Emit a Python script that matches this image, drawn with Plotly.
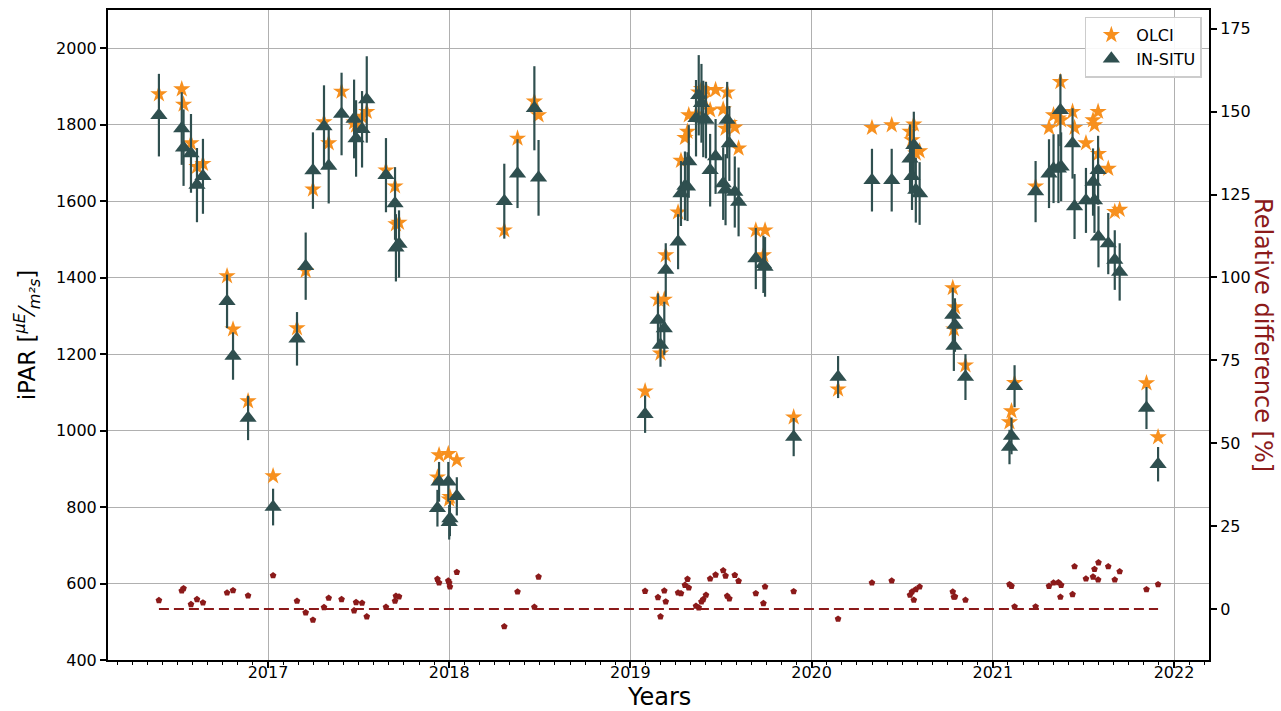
import plotly.graph_objects as go

# ---- data ----
dates = [2016.398, 2016.524, 2016.534, 2016.575, 2016.608, 2016.641, 2016.774, 2016.807, 2016.890,
         2017.028, 2017.160, 2017.208, 2017.248, 2017.309, 2017.335, 2017.406, 2017.475, 2017.486,
         2017.519, 2017.545, 2017.651, 2017.701, 2017.706, 2017.723, 2017.935, 2017.944, 2017.995,
         2018.000, 2018.004, 2018.042, 2018.304, 2018.377, 2018.470, 2018.493,
         2019.081, 2019.152, 2019.166, 2019.187, 2019.195, 2019.263, 2019.279, 2019.301, 2019.315,
         2019.322, 2019.362, 2019.377, 2019.392, 2019.402, 2019.417, 2019.440, 2019.470, 2019.512,
         2019.525, 2019.534, 2019.546, 2019.576, 2019.597, 2019.692, 2019.734, 2019.743, 2019.901,
         2020.146, 2020.333, 2020.442, 2020.543, 2020.554, 2020.564, 2020.575, 2020.596, 2020.779,
         2020.785, 2020.791, 2020.849,
         2021.092, 2021.103, 2021.120, 2021.236, 2021.310, 2021.335, 2021.362, 2021.373, 2021.377,
         2021.440, 2021.451, 2021.514, 2021.553, 2021.561, 2021.581, 2021.583, 2021.637, 2021.673,
         2021.700, 2021.848, 2021.912]

olci = [1880, 1893, 1853, 1752, 1690, 1698, 1404, 1265, 1077,
        881, 1268, 1418, 1631, 1807, 1752, 1887, 1806, 1798,
        1821, 1834, 1681, 1639, 1540, 1544, 878, 936, 939,
        820, 827, 923, 1524, 1764, 1861, 1825,
        1103, 1343, 1202, 1343, 1459, 1571, 1706, 1766, 1782,
        1825, 1827, 1885, 1894, 1870, 1891, 1838, 1891, 1840,
        1790, 1885, 1805, 1793, 1738, 1524, 1459, 1524, 1035,
        1108, 1792, 1799, 1782, 1760, 1801, 1725, 1731, 1373,
        1265, 1323, 1171,
        1022, 1051, 1125, 1639, 1792, 1825, 1817, 1912, 1812,
        1834, 1792, 1752, 1812, 1799, 1834, 1724, 1685, 1572,
        1578, 1124, 983]

insitu = [1825, 1790, 1740, 1725, 1642, 1665, 1338, 1195, 1033,
          800, 1240, 1430, 1680, 1795, 1692, 1828, 1815, 1764,
          1788, 1866, 1668, 1594, 1478, 1488, 797, 866, 866,
          760, 770, 828, 1600, 1672, 1843, 1661,
          1043, 1289, 1224, 1267, 1420, 1494, 1620, 1640, 1638,
          1704, 1817, 1877, 1856, 1815, 1812, 1681, 1717, 1646,
          1630, 1812, 1751, 1624, 1598, 1450, 1435, 1428, 983,
          1140, 1655, 1655, 1711, 1665, 1746, 1629, 1620, 1302,
          1221, 1276, 1140,
          957, 986, 1116, 1625, 1672, 1685, 1685, 1838, 1690,
          1751, 1586, 1602, 1650, 1602, 1681, 1507, 1489, 1446,
          1415, 1059, 912]

insitu_err = [108, 95, 100, 103, 97, 98, 70, 62, 58,
              48, 70, 88, 100, 108, 98, 108, 103, 100,
              100, 113, 97, 95, 88, 88, 48, 52, 52,
              45, 46, 50, 98, 90, 110, 99,
              49, 70, 57, 70, 70, 72, 85, 90, 90,
              95, 100, 105, 103, 100, 100, 95, 98, 95,
              93, 100, 98, 93, 90, 80, 75, 78, 50,
              55, 82, 82, 90, 88, 88, 85, 82, 72,
              65, 70, 60,
              45, 48, 55, 80, 90, 90, 90, 94, 90,
              92, 85, 85, 88, 85, 90, 80, 80, 78,
              75, 55, 45]

rel_diff = [2.6, 5.5, 6.2, 1.4, 2.9, 1.9, 4.9, 5.6, 4.0,
            10.1, 2.4, -1.1, -3.3, 0.5, 3.3, 2.9, -0.5, 2.0,
            1.8, -2.3, 0.6, 2.4, 3.9, 3.7, 9.0, 7.9, 8.5,
            7.9, 6.7, 11.1, -5.3, 5.2, 0.6, 9.7,
            5.4, 3.5, -2.3, 5.5, 2.2, 4.9, 4.7, 7.2, 9.0,
            6.4, 0.9, 0.4, 2.2, 2.9, 4.2, 9.1, 10.3, 11.6,
            10.0, 3.9, 3.1, 10.2, 8.4, 4.7, 1.7, 6.7, 5.3,
            -3.0, 7.9, 8.5, 4.2, 5.2, 2.7, 5.9, 6.7, 5.2,
            3.6, 3.7, 2.7,
            7.4, 6.9, 0.7, 0.7, 6.9, 7.9, 8.0, 3.6, 7.2,
            4.4, 12.8, 9.1, 9.7, 12.0, 8.8, 14.0, 12.8, 8.8,
            11.3, 5.9, 7.4]

year_ticks = [2017, 2018, 2019, 2020, 2021, 2022]
year_labels = ["2017", "2018", "2019", "2020", "2021", "2022"]

ORANGE = "#f7901e"
SLATE = "#2f4f4f"
DARKRED = "#8b1a1a"
FONT = "DejaVu Sans"

fig = go.Figure()

fig.add_trace(go.Scatter(
    x=dates, y=olci, mode="markers", name="OLCI",
    marker=dict(symbol="star", size=13, color=ORANGE, line=dict(width=0)),
))
fig.add_trace(go.Scatter(
    x=dates, y=insitu, mode="markers", name="IN-SITU",
    marker=dict(symbol="triangle-up", size=15, color=SLATE, line=dict(width=0)),
    error_y=dict(type="data", array=insitu_err, color=SLATE, thickness=2.2, width=0),
))
fig.add_trace(go.Scatter(
    x=dates, y=rel_diff, mode="markers", yaxis="y2", showlegend=False,
    marker=dict(symbol="pentagon", size=7, color=DARKRED, line=dict(width=0)),
))
fig.add_trace(go.Scatter(
    x=[min(dates), max(dates)], y=[0, 0], mode="lines", yaxis="y2", showlegend=False,
    line=dict(color=DARKRED, width=2, dash="10px,5px"),
))

fig.update_layout(
    width=1281, height=711,
    margin=dict(l=108, r=72, t=10, b=51, autoexpand=False),
    paper_bgcolor="white", plot_bgcolor="white",
    font=dict(family=FONT, size=16, color="black"),
    showlegend=True,
    legend=dict(x=0.9935, y=0.99, xanchor="right", yanchor="top",
                bgcolor="rgba(255,255,255,0.9)", bordercolor="#cccccc", borderwidth=1.5,
                font=dict(family=FONT, size=16), itemwidth=40, tracegroupgap=0),
    xaxis=dict(
        range=[2016.117, 2022.193], automargin=False,
        tickmode="array", tickvals=year_ticks, ticktext=year_labels,
        showgrid=True, gridcolor="#b0b0b0", gridwidth=1,
        showline=True, linecolor="black", linewidth=2, mirror=True,
        ticks="outside", ticklen=6, tickwidth=1.5, tickcolor="black",
        ticklabelstandoff=-9,
        minor=dict(tickmode="linear", tick0=2017, dtick=1/12, ticks="outside",
                   ticklen=3, tickwidth=1, tickcolor="black", showgrid=False),
        zeroline=False,
        tickfont=dict(family=FONT, size=16),
    ),
    yaxis=dict(
        range=[400, 2100], tick0=400, dtick=200, automargin=False,
        showgrid=True, gridcolor="#b0b0b0", gridwidth=1,
        showline=True, linecolor="black", linewidth=2, mirror=True,
        ticks="outside", ticklen=6, tickwidth=1.5, tickcolor="black",
        zeroline=False,
        title=dict(text="iPAR [<sup><i>μE</i></sup>⁄<sub><i>m²s</i></sub>]",
                   font=dict(family=FONT, size=23), standoff=14),
        tickfont=dict(family=FONT, size=16),
    ),
    yaxis2=dict(
        overlaying="y", side="right", automargin=False,
        range=[-15.4, 180.7], tick0=0, dtick=25,
        showgrid=False, zeroline=False,
        showline=True, linecolor="black", linewidth=2,
        ticks="outside", ticklen=6, tickwidth=1.5, tickcolor="black",
        tickfont=dict(family=FONT, size=16),
    ),
    annotations=[
        dict(text="Relative difference [%]", textangle=90,
             xref="paper", yref="paper", x=1.049, y=0.5,
             xanchor="center", yanchor="middle", showarrow=False,
             font=dict(family=FONT, size=24, color=DARKRED)),
        dict(text="Years", xref="paper", yref="paper", x=0.5, y=-0.057,
             xanchor="center", yanchor="middle", showarrow=False,
             font=dict(family=FONT, size=24, color="black")),
    ],
)

fig.write_html("out.html")
